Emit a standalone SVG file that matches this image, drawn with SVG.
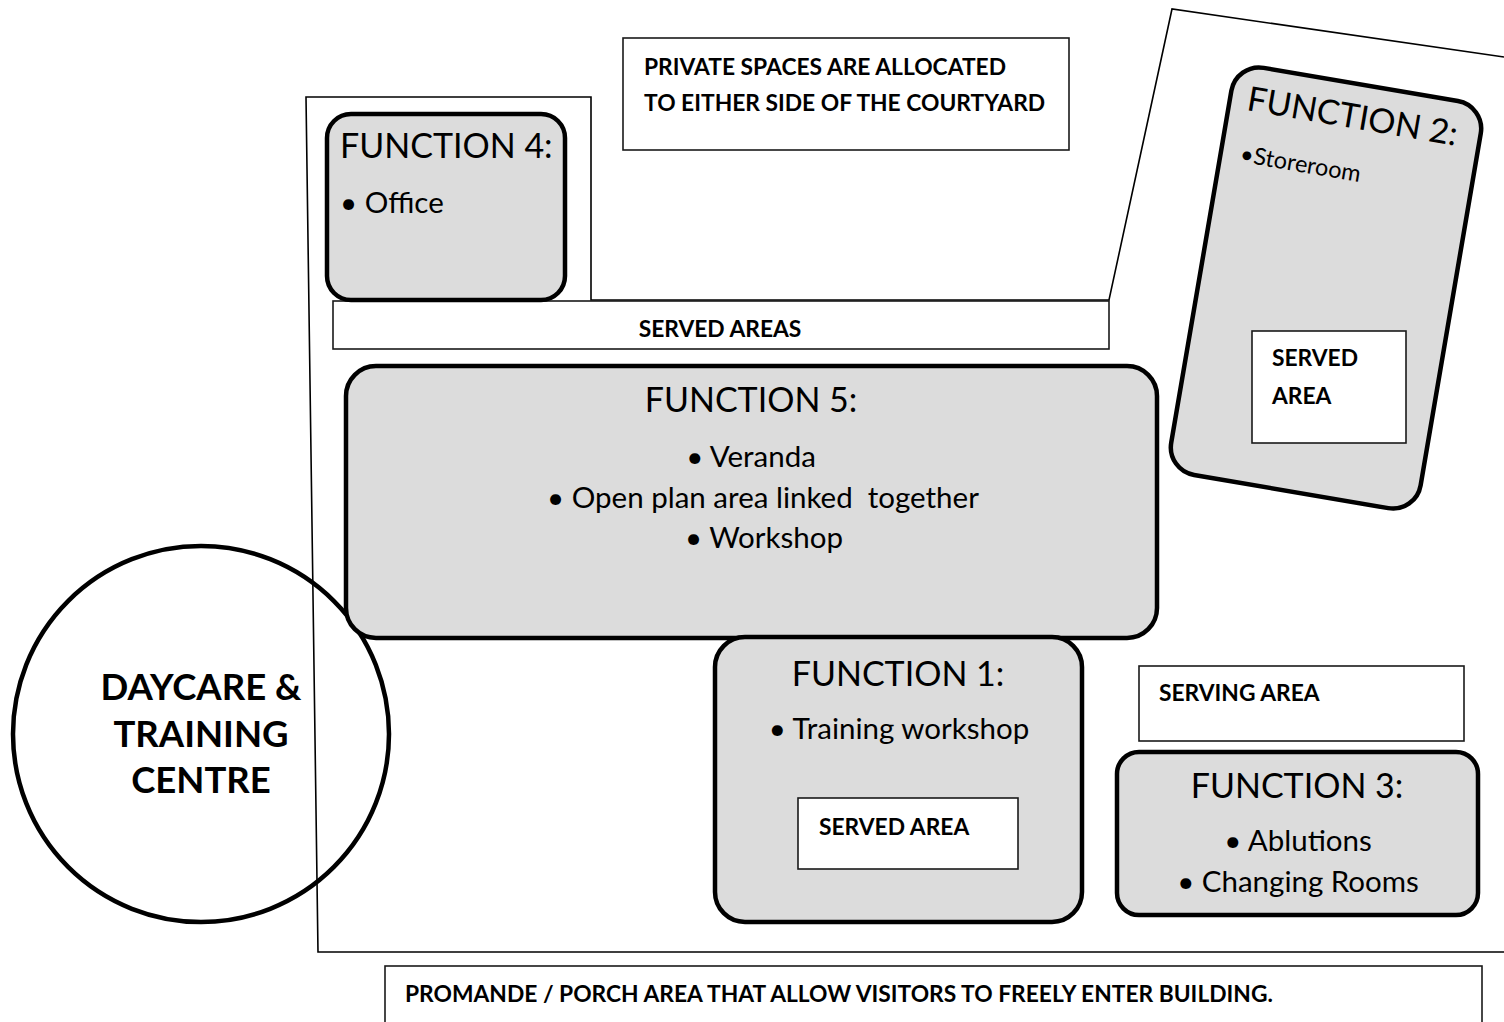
<svg xmlns="http://www.w3.org/2000/svg" width="1504" height="1022" viewBox="0 0 1504 1022">
<style>
.thin{fill:#fff;stroke:#1a1a1a;stroke-width:1.6}
.fn{fill:#dcdcdc;stroke:#000;stroke-width:4.5}
.h{font-family:Lato,"Liberation Sans",sans-serif;font-size:34px;fill:#000}
.b{font-family:Lato,"Liberation Sans",sans-serif;font-size:29.5px;fill:#000}
.lb{font-family:Lato,"Liberation Sans",sans-serif;font-size:22.8px;font-weight:bold;fill:#000}
.big{font-family:Lato,"Liberation Sans",sans-serif;font-size:36.5px;font-weight:bold;fill:#000}
.c{text-anchor:middle}
</style>
<rect width="1504" height="1022" fill="#fff"/>
<g id="outline">
<path d="M1504,57 L1172,9 L1109,300 L591,300 L591,97 L306,97 L318,952 L1504,952" fill="none" stroke="#000" stroke-width="1.6"/>
</g>
<g id="circle-daycare">
<circle cx="201" cy="734" r="188" fill="none" stroke="#000" stroke-width="4.5"/>
<text class="big c" x="201" y="700">DAYCARE &amp;</text>
<text class="big c" x="201" y="747">TRAINING</text>
<text class="big c" x="201" y="793">CENTRE</text>
</g>
<g id="private-spaces">
<rect class="thin" x="623" y="38" width="446" height="112"/>
<text class="lb" x="644" y="75">PRIVATE SPACES ARE ALLOCATED</text>
<text class="lb" x="644" y="111">TO EITHER SIDE OF THE COURTYARD</text>
</g>
<g id="served-areas">
<rect class="thin" x="333" y="301" width="776" height="48"/>
<text class="lb c" x="720" y="337">SERVED AREAS</text>
</g>
<g id="function4">
<rect class="fn" x="327" y="114" width="238" height="186" rx="24"/>
<text class="h" x="340" y="158">FUNCTION 4:</text>
<text class="b" x="340" y="213">• Office</text>
</g>
<g id="function2">
<g transform="translate(1326,288) rotate(9.7)">
<rect class="fn" x="-126.5" y="-206.5" width="253" height="413" rx="28"/>
<text class="h" x="-109" y="-162">FUNCTION 2:</text>
<text class="b" x="-107" y="-110" style="font-size:23.5px">•Storeroom</text>
</g>
<rect class="thin" x="1252" y="331" width="154" height="112"/>
<text class="lb" x="1272" y="366">SERVED</text>
<text class="lb" x="1272" y="404">AREA</text>
</g>
<g id="function5">
<rect class="fn" x="346" y="366" width="811" height="272" rx="30"/>
<text class="h c" x="751" y="412">FUNCTION 5:</text>
<text class="b c" x="751" y="467">• Veranda</text>
<text class="b c" x="763" y="508" xml:space="preserve">• Open plan area linked  together</text>
<text class="b c" x="764" y="548">• Workshop</text>
</g>
<g id="function1">
<rect class="fn" x="715" y="637" width="367" height="285" rx="30"/>
<text class="h c" x="898" y="686">FUNCTION 1:</text>
<text class="b c" x="899" y="739">• Training workshop</text>
<rect class="thin" x="798" y="798" width="220" height="71"/>
<text class="lb" x="819" y="835">SERVED AREA</text>
</g>
<g id="serving-area">
<rect class="thin" x="1139" y="666" width="325" height="75"/>
<text class="lb" x="1159" y="701">SERVING AREA</text>
</g>
<g id="function3">
<rect class="fn" x="1117" y="752" width="361" height="163" rx="22"/>
<text class="h c" x="1297" y="798">FUNCTION 3:</text>
<text class="b c" x="1298" y="851">• Ablutions</text>
<text class="b c" x="1298" y="892">• Changing Rooms</text>
</g>
<g id="porch">
<rect class="thin" x="385" y="966" width="1097" height="70"/>
<text class="lb" x="405" y="1002">PROMANDE / PORCH AREA THAT ALLOW VISITORS TO FREELY ENTER BUILDING.</text>
</g>
<g id="connectors"></g>
</svg>
